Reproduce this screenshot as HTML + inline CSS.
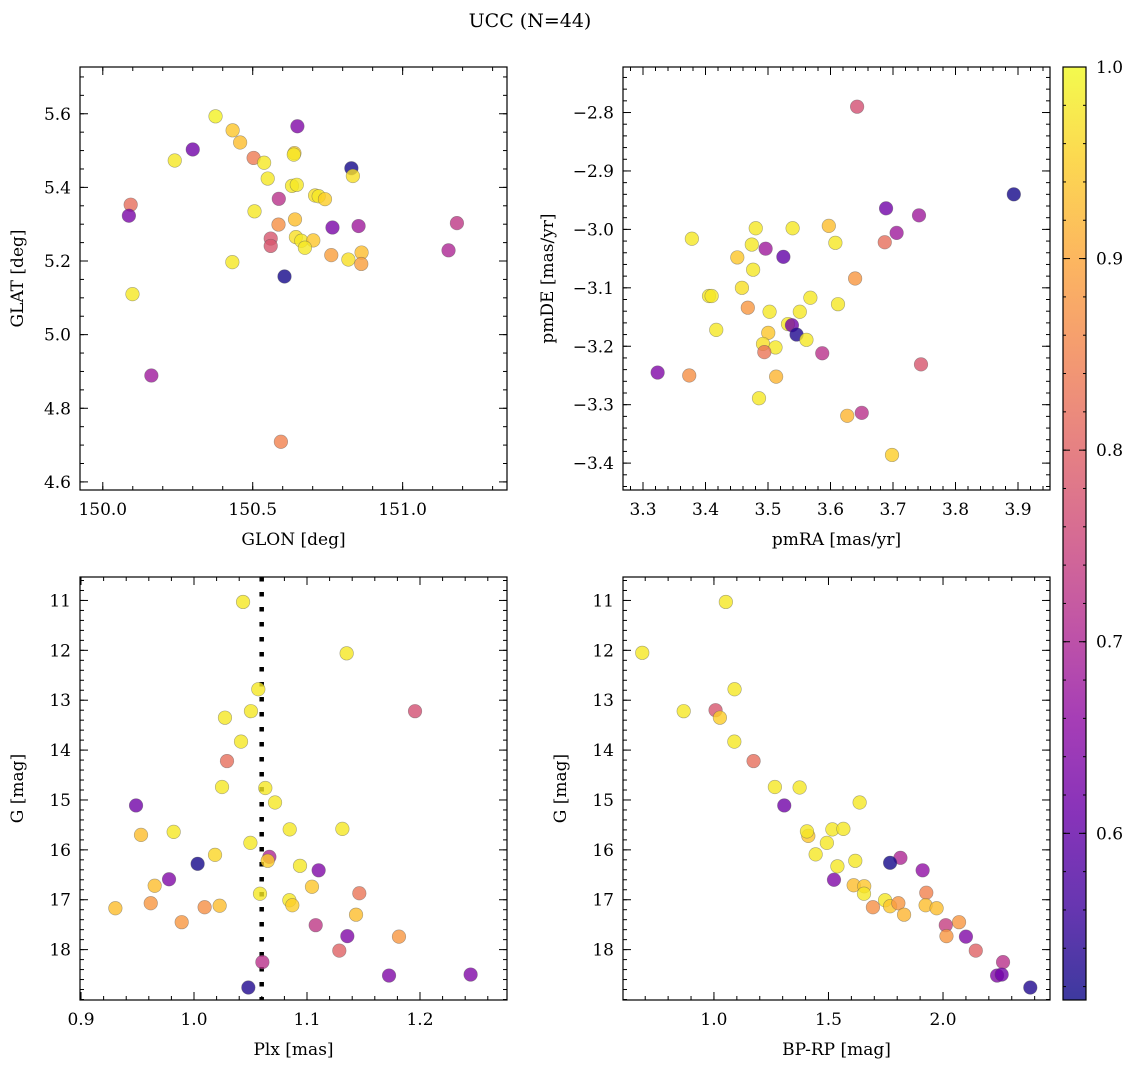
<!DOCTYPE html>
<html><head><meta charset="utf-8">
<style>
html,body{margin:0;padding:0;background:#fff;}
svg{display:block;font-family:"DejaVu Serif","Liberation Serif",serif;}
</style></head>
<body>
<svg id="fig" width="1136" height="1067" viewBox="0 0 1136 1067" xmlns="http://www.w3.org/2000/svg">
<text x="530" y="27" font-size="19" text-anchor="middle">UCC (N=44)</text>
</svg>
<script>
// ---- Panel 1: GLON / GLAT ----
const glon = [150.376,150.433,150.458,150.300,150.649,150.240,150.503,150.538,150.639,150.637,150.829,150.834,150.550,150.631,150.647,150.708,150.720,150.741,150.093,150.087,150.587,150.506,150.641,150.586,150.766,150.853,151.181,150.560,150.560,150.644,150.662,150.702,150.674,151.153,150.762,150.819,150.863,150.862,150.432,150.606,150.099,150.162,150.594];
const glat = [5.593,5.555,5.522,5.503,5.566,5.473,5.480,5.467,5.493,5.489,5.452,5.431,5.424,5.404,5.407,5.378,5.376,5.368,5.353,5.323,5.369,5.335,5.313,5.299,5.291,5.295,5.303,5.261,5.241,5.265,5.255,5.256,5.236,5.229,5.216,5.204,5.223,5.192,5.197,5.158,5.110,4.889,4.709];
const prob1 = [0.99,0.94,0.93,0.62,0.64,0.98,0.84,0.98,0.95,0.98,0.52,0.97,0.98,0.98,0.98,0.97,0.98,0.95,0.82,0.63,0.72,0.98,0.93,0.87,0.63,0.68,0.73,0.78,0.78,0.97,0.98,0.94,0.98,0.70,0.89,0.97,0.93,0.89,0.98,0.52,0.98,0.68,0.85];
// ---- Panel 2: pmRA / pmDE ----
const pmra = [3.6426,3.8933,3.6889,3.7416,3.7058,3.6868,3.3782,3.4804,3.5394,3.5973,3.6078,3.4741,3.4962,3.5246,3.4509,3.4762,3.6394,3.4583,3.4056,3.4098,3.5678,3.6120,3.4677,3.5025,3.5509,3.4172,3.5320,3.5383,3.5457,3.5615,3.5004,3.4920,3.5120,3.4941,3.5868,3.3234,3.3740,3.5130,3.7448,3.4856,3.6500,3.6268,3.6984];
const pmde = [-2.790,-2.940,-2.964,-2.976,-3.006,-3.022,-3.016,-2.998,-2.998,-2.994,-3.023,-3.026,-3.033,-3.047,-3.048,-3.069,-3.084,-3.100,-3.114,-3.114,-3.117,-3.128,-3.134,-3.141,-3.141,-3.172,-3.162,-3.164,-3.180,-3.189,-3.177,-3.196,-3.202,-3.210,-3.212,-3.245,-3.250,-3.252,-3.231,-3.289,-3.314,-3.319,-3.386];
const prob2 = [0.77,0.52,0.62,0.68,0.68,0.82,0.98,0.98,0.98,0.93,0.98,0.98,0.68,0.60,0.94,0.98,0.88,0.97,0.98,0.98,0.98,0.98,0.88,0.98,0.98,0.98,0.98,0.62,0.53,0.98,0.94,0.97,0.98,0.83,0.72,0.64,0.87,0.92,0.78,0.98,0.72,0.92,0.95];
// ---- Panel 3: Plx / G ----
const plx = [1.0434,1.1351,1.0569,1.1956,1.0504,1.0274,1.0416,1.0292,1.0248,1.0631,1.0717,0.9487,0.9531,0.9820,1.0847,1.1313,1.0499,1.0186,1.0667,1.0652,1.0032,1.0938,1.1103,0.9779,0.9652,1.1044,1.1463,1.0584,1.0844,1.0870,0.9617,0.9304,1.0094,1.0227,1.1434,0.9891,1.1077,1.1357,1.1814,1.1286,1.0605,1.1726,1.2448,1.0481];
const gmag3 = [11.03,12.06,12.78,13.22,13.22,13.35,13.83,14.22,14.74,14.76,15.05,15.11,15.70,15.64,15.59,15.58,15.86,16.10,16.14,16.22,16.28,16.32,16.41,16.59,16.72,16.74,16.87,16.88,17.01,17.11,17.07,17.17,17.15,17.12,17.30,17.45,17.51,17.73,17.74,18.02,18.25,18.52,18.50,18.76];
const prob3 = [0.98,0.98,0.98,0.77,0.98,0.98,0.98,0.82,0.98,0.98,0.98,0.62,0.93,0.98,0.98,0.98,0.98,0.96,0.70,0.95,0.52,0.98,0.64,0.64,0.93,0.94,0.83,0.98,0.98,0.95,0.88,0.93,0.87,0.93,0.93,0.88,0.73,0.64,0.88,0.80,0.72,0.64,0.64,0.53];
const plxLine = 1.0599;
// ---- Panel 4: BP-RP / G ----
const bprp = [1.052,0.687,1.090,0.868,1.007,1.026,1.089,1.173,1.266,1.374,1.636,1.307,1.412,1.406,1.517,1.565,1.493,1.444,1.814,1.769,1.617,1.539,1.911,1.524,1.610,1.656,1.655,1.927,1.747,1.769,1.805,1.694,1.924,1.972,1.830,2.070,2.012,2.015,2.100,2.143,2.262,2.236,2.256,2.381];
const gmag4 = [11.03,12.05,12.78,13.22,13.20,13.35,13.83,14.22,14.74,14.75,15.05,15.11,15.72,15.63,15.59,15.58,15.86,16.09,16.16,16.26,16.22,16.33,16.41,16.60,16.71,16.73,16.88,16.86,17.01,17.13,17.07,17.15,17.11,17.17,17.30,17.45,17.51,17.73,17.74,18.02,18.25,18.52,18.50,18.76];
const prob4 = [0.98,0.98,0.98,0.98,0.78,0.95,0.98,0.82,0.98,0.98,0.98,0.62,0.94,0.98,0.98,0.98,0.98,0.98,0.70,0.52,0.98,0.98,0.66,0.64,0.93,0.94,0.98,0.85,0.98,0.94,0.88,0.87,0.93,0.93,0.92,0.88,0.74,0.88,0.64,0.80,0.72,0.64,0.62,0.53];
// tick labels
const ticks1x = [150.0,150.5,151.0], ticks1y = [4.6,4.8,5.0,5.2,5.4,5.6];
const ticks2x = [3.3,3.4,3.5,3.6,3.7,3.8,3.9], ticks2y = [-3.4,-3.3,-3.2,-3.1,-3.0,-2.9,-2.8];
const ticks3x = [0.9,1.0,1.1,1.2], ticksG = [11,12,13,14,15,16,17,18];
const ticks4x = [1.0,1.5,2.0];
const cbTicks = [0.6,0.7,0.8,0.9,1.0];

const NS = "http://www.w3.org/2000/svg";
const svg = document.getElementById('fig');
function el(tag, attrs, parent){const e=document.createElementNS(NS,tag);for(const k in attrs)e.setAttribute(k,attrs[k]);(parent||svg).appendChild(e);return e;}
const stops=[[13,8,135],[65,4,157],[106,0,168],[143,13,164],[177,42,144],[204,71,120],[225,100,98],[242,132,75],[252,166,54],[252,206,37],[240,249,33]];
const CMIN=0.513, CMAX=1.0;
function plasma(v){let t=(v-CMIN)/(CMAX-CMIN);t=Math.max(0,Math.min(1,t))*10;const i=Math.min(9,Math.floor(t)),f=t-i;const a=stops[i],b=stops[i+1];return 'rgb('+a.map((c,k)=>Math.round(c+(b[k]-c)*f)).join(',')+')';}
function fmt(v,d){const s=v.toFixed(d);return s.replace('-','\u2212');}
function lin(d0,d1,r0,r1){return v=>r0+(v-d0)*(r1-r0)/(d1-d0);}
const TFS=17, LFS=17;

function panel(o){
  const g=el('g',{});
  
  
  const X=lin(o.xd[0],o.xd[1],o.L,o.R), Y=lin(o.yd[0],o.yd[1],o.B,o.T);
  const tg=el('g',{stroke:'#000','stroke-width':1},g);
  function ticksX(step,len){const s=Math.ceil(o.xd[0]/step-1e-6);for(let k=s;k*step<=o.xd[1]+1e-9;k++){const x=X(k*step);el('line',{x1:x,x2:x,y1:o.B,y2:o.B-len},tg);el('line',{x1:x,x2:x,y1:o.T,y2:o.T+len},tg);}}
  function ticksY(step,len){const lo=Math.min(o.yd[0],o.yd[1]),hi=Math.max(o.yd[0],o.yd[1]);const s=Math.ceil(lo/step-1e-6);for(let k=s;k*step<=hi+1e-9;k++){const y=Y(k*step);el('line',{x1:o.L,x2:o.L+len,y1:y,y2:y},tg);el('line',{x1:o.R,x2:o.R-len,y1:y,y2:y},tg);}}
  ticksX(o.xminor,4);ticksY(o.yminor,4);
  o.xt.forEach(v=>{const x=X(v);el('line',{x1:x,x2:x,y1:o.B,y2:o.B-8},tg);el('line',{x1:x,x2:x,y1:o.T,y2:o.T+8},tg);
    const t=el('text',{x:x,y:o.B+25,'font-size':TFS,'text-anchor':'middle'},g);t.textContent=fmt(v,o.xdec);
    });
  o.yt.forEach(v=>{const y=Y(v);el('line',{x1:o.L,x2:o.L+8,y1:y,y2:y},tg);el('line',{x1:o.R,x2:o.R-8,y1:y,y2:y},tg);
    const t=el('text',{x:o.L-9,y:y+6,'font-size':TFS,'text-anchor':'end'},g);t.textContent=fmt(v,o.ydec);
    });
  if(o.vline!==undefined){const x=X(o.vline);const vl=el('line',{x1:x,x2:x,y1:o.T,y2:o.B,stroke:'#000','stroke-width':4.5,'stroke-dasharray':'4.5 10.5'},g);
    }
  o.xs.forEach((xv,i)=>{const c=el('circle',{cx:X(xv),cy:Y(o.ys[i]),r:6.8,fill:plasma(o.cs[i]),'fill-opacity':0.8,stroke:'#555','stroke-opacity':0.5,'stroke-width':0.6},g);
    });
  el('rect',{x:o.L,y:o.T,width:o.R-o.L,height:o.B-o.T,fill:'none',stroke:'#000','stroke-width':1.2},g);
  const xl=el('text',{x:(o.L+o.R)/2,y:o.B+55,'font-size':LFS,'text-anchor':'middle'},g);xl.textContent=o.xlab;
  
  const yx=o.L-o.ylabOff, yy=(o.T+o.B)/2;
  const yl=el('text',{x:yx,y:yy,'font-size':LFS,'text-anchor':'middle',transform:'rotate(-90 '+yx+' '+yy+')'},g);yl.textContent=o.ylab;
  
}
panel({name:'glon-glat-panel',L:80,R:507,T:67,B:490,xd:[149.924,151.348],yd:[4.578,5.727],xt:ticks1x,yt:ticks1y,xdec:1,ydec:1,xminor:0.1,yminor:0.05,xs:glon,ys:glat,cs:prob1,xlab:'GLON [deg]',ylab:'GLAT [deg]',ylabOff:57});
panel({name:'pm-panel',L:623,R:1050,T:67,B:490,xd:[3.268,3.9512],yd:[-3.4460,-2.7221],xt:ticks2x,yt:ticks2y,xdec:1,ydec:1,xminor:0.02,yminor:0.02,xs:pmra,ys:pmde,cs:prob2,xlab:'pmRA [mas/yr]',ylab:'pmDE [mas/yr]',ylabOff:70});
panel({name:'plx-g-panel',L:80,R:507,T:577,B:1000,xd:[0.8991,1.2770],yd:[19.01,10.53],xt:ticks3x,yt:ticksG,xdec:1,ydec:0,xminor:0.02,yminor:0.2,xs:plx,ys:gmag3,cs:prob3,xlab:'Plx [mas]',ylab:'G [mag]',ylabOff:57,vline:plxLine});
panel({name:'cmd-panel',L:623,R:1050,T:577,B:1000,xd:[0.603,2.467],yd:[19.01,10.53],xt:ticks4x,yt:ticksG,xdec:1,ydec:0,xminor:0.1,yminor:0.2,xs:bprp,ys:gmag4,cs:prob4,xlab:'BP-RP [mag]',ylab:'G [mag]',ylabOff:57});

// colorbar
const cb=el('g',{});


const defs=el('defs',{},cb);
const lg=el('linearGradient',{id:'cbg',x1:0,y1:1,x2:0,y2:0},defs);
for(let k=0;k<=20;k++){const v=CMIN+(CMAX-CMIN)*k/20;el('stop',{offset:k/20,'stop-color':plasma(v)},lg);}
const CBT=67,CBB=1000,CBL=1063,CBR=1086;
el('rect',{x:CBL,y:CBT,width:CBR-CBL,height:CBB-CBT,fill:'url(#cbg)','fill-opacity':0.8},cb);
el('rect',{x:CBL,y:CBT,width:CBR-CBL,height:CBB-CBT,fill:'none',stroke:'#000','stroke-width':1.2},cb);
const CY=lin(CMIN,CMAX,CBB,CBT);
for(let k=Math.ceil(CMIN/0.02);k*0.02<=CMAX+1e-9;k++){const y=CY(k*0.02);el('line',{x1:CBR,x2:CBR-3,y1:y,y2:y,stroke:'#000'},cb);el('line',{x1:CBL,x2:CBL+3,y1:y,y2:y,stroke:'#000'},cb);}
cbTicks.forEach(v=>{const y=CY(v);el('line',{x1:CBR,x2:CBR-7,y1:y,y2:y,stroke:'#000'},cb);el('line',{x1:CBL,x2:CBL+7,y1:y,y2:y,stroke:'#000'},cb);
  const t=el('text',{x:CBR+10,y:y+6,'font-size':TFS},cb);t.textContent=v.toFixed(1);
  });
</script>
</body></html>
